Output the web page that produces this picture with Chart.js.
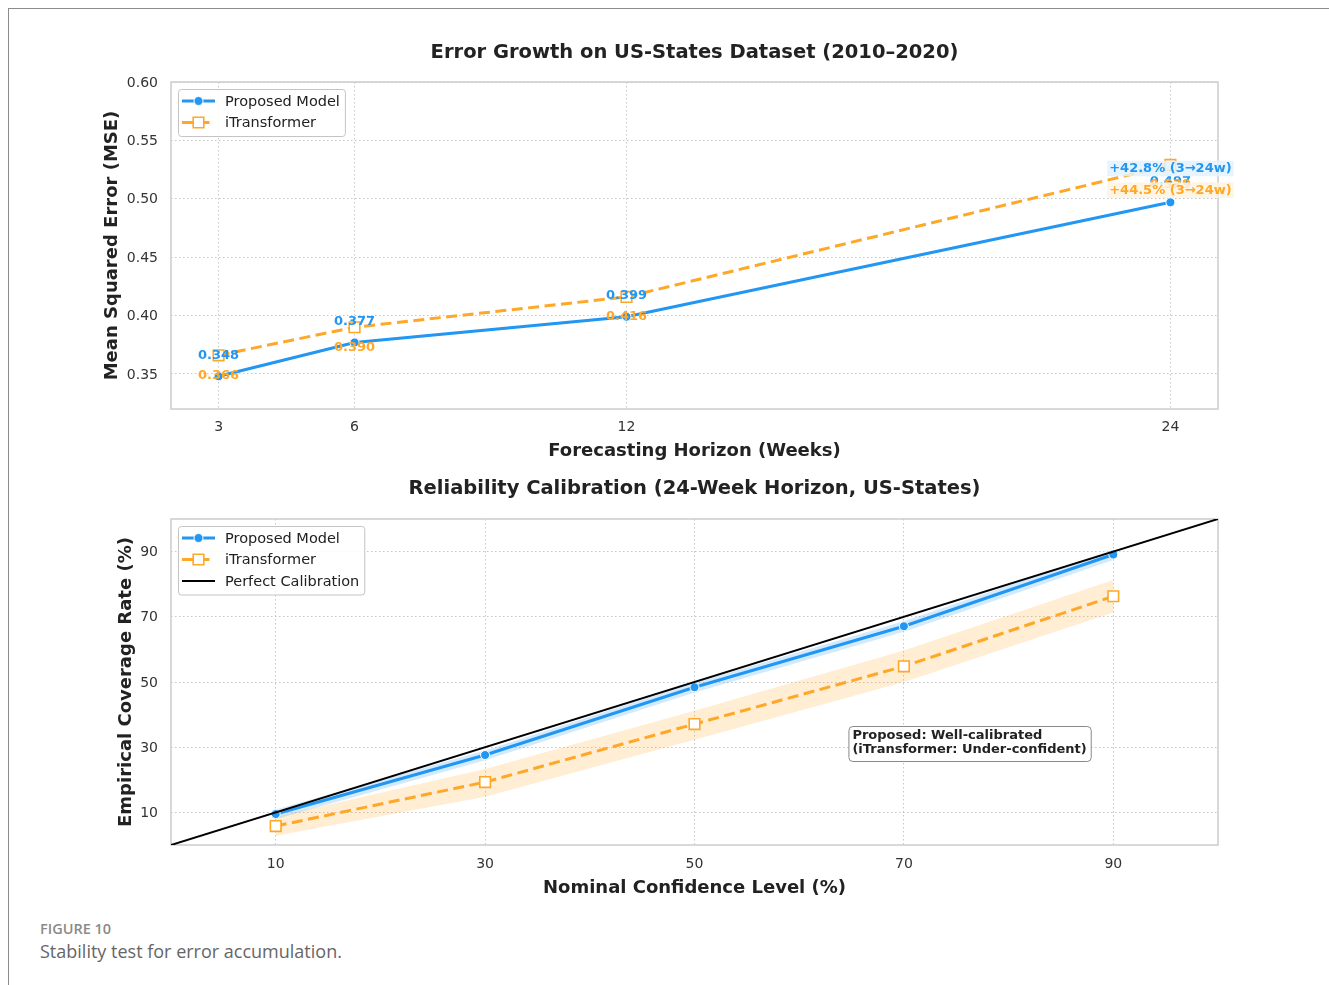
<!DOCTYPE html>
<html>
<head>
<meta charset="utf-8">
<title>Stability test for error accumulation</title>
<script src="https://cdn.jsdelivr.net/npm/chart.js@4/dist/chart.umd.min.js"></script>
<style>
  html, body { margin: 0; padding: 0; background: #ffffff; }
  body { width: 1329px; height: 985px; position: relative; overflow: hidden; font-family: 'DejaVu Sans', sans-serif; }
  #frame { position: absolute; left: 8px; top: 8px; right: 0; bottom: 0;
           border-left: 1.5px solid #8c8c8c; border-top: 1.5px solid #8c8c8c; }
  .panel { position: absolute; left: 0; }
  #p1 { top: 0; }
  #p2 { top: 465px; }
  .fig-no { position: absolute; left: 40px; top: 919px; font: 600 14.5px 'Open Sans', sans-serif; color: #8a8a8a; }
  .fig-cap { position: absolute; left: 40px; top: 939px; font: 400 18px 'Open Sans', sans-serif; color: #666666; }
</style>
</head>
<body>
<div id="frame"></div>
<canvas id="p1" class="panel" width="1329" height="470"></canvas>
<canvas id="p2" class="panel" width="1329" height="450"></canvas>
<div class="fig-no">FIGURE 10</div>
<div class="fig-cap">Stability test for error accumulation.</div>

<script>
// ---- Error growth across forecasting horizons (US-States, 2010–2020) ----
const horizons     = [3, 6, 12, 24];
const proposedMSE  = [0.348, 0.377, 0.399, 0.497];
const itransMSE    = [0.366, 0.390, 0.416, 0.529];
const mseTicks     = [0.35, 0.40, 0.45, 0.50, 0.55, 0.60];

// ---- Reliability calibration at the 24-week horizon ----
const confLevels       = [10, 30, 50, 70, 90];
const proposedCov      = [9.5, 27.6, 48.4, 67.1, 89.1];
const proposedCovLow   = [8.0, 26.0, 46.8, 65.4, 87.4];
const proposedCovHigh  = [10.9, 29.0, 49.8, 68.6, 90.6];
const itransCov        = [5.8, 19.3, 37.1, 54.8, 76.3];
const itransCovLow     = [2.8, 14.8, 32.3, 50.0, 71.3];
const itransCovHigh    = [8.7, 23.3, 41.2, 59.7, 81.3];
const calibRange       = [0, 100];
const coverageTicks    = [10, 30, 50, 70, 90];
const calibNote        = ['Proposed: Well-calibrated', '(iTransformer: Under-confident)'];

const BLUE = '#2196F3';
const ORANGE = '#FFA726';
const FONT = "'DejaVu Sans', sans-serif";

const pairs = (xs, ys) => xs.map((x, i) => ({ x: x, y: ys[i] }));

// Panel title centred over the plotting area
const panelTitle = {
  id: 'panelTitle',
  afterDraw(chart, args, opts) {
    const { ctx, chartArea: a } = chart;
    ctx.save();
    ctx.font = 'bold 19.5px ' + FONT;
    ctx.fillStyle = '#222222';
    ctx.textAlign = 'center';
    ctx.textBaseline = 'middle';
    ctx.fillText(opts.text, (a.left + a.right) / 2, opts.y);
    ctx.restore();
  }
};

// Light frame around the plotting area
const plotFrame = {
  id: 'plotFrame',
  beforeDatasetsDraw(chart) {
    const { ctx, chartArea: a } = chart;
    ctx.save();
    ctx.strokeStyle = '#cccccc';
    ctx.lineWidth = 1.5;
    ctx.strokeRect(a.left, a.top, a.width, a.height);
    ctx.restore();
  }
};

function drawMarker(ctx, ds, x, y) {
  const r = ds.pointRadius;
  ctx.save();
  ctx.setLineDash([]);
  ctx.fillStyle = ds.pointBackgroundColor;
  ctx.strokeStyle = ds.pointBorderColor;
  ctx.lineWidth = ds.pointBorderWidth;
  ctx.beginPath();
  if (ds.pointStyle === 'rect') {
    const s = r * Math.SQRT1_2;
    ctx.rect(x - s, y - s, 2 * s, 2 * s);
  } else {
    ctx.arc(x, y, r, 0, Math.PI * 2);
  }
  ctx.fill();
  if (ds.pointBorderWidth > 0) ctx.stroke();
  ctx.restore();
}

// Boxed legend drawn in the upper-left corner of the plot
const boxLegend = {
  id: 'boxLegend',
  afterDraw(chart, args, opts) {
    const { ctx, chartArea: a } = chart;
    const items = chart.data.datasets.filter(d => d.label);
    ctx.save();
    ctx.font = '14.5px ' + FONT;
    const tw = Math.max(...items.map(d => ctx.measureText(d.label).width));
    const x0 = a.left + 7, y0 = a.top + 7;
    const rowH = 21.5;
    const w = 47 + tw + 5, h = items.length * rowH + 4;
    ctx.fillStyle = 'rgba(255,255,255,0.85)';
    ctx.strokeStyle = '#c4c4c4';
    ctx.lineWidth = 1;
    ctx.beginPath();
    ctx.roundRect(x0 + 0.5, y0 + 0.5, w, h, 3);
    ctx.fill();
    ctx.stroke();
    items.forEach((d, i) => {
      const cy = y0 + 12 + i * rowH;
      ctx.save();
      ctx.strokeStyle = d.borderColor;
      ctx.lineWidth = d.borderWidth;
      ctx.setLineDash(d.borderDash || []);
      ctx.beginPath();
      ctx.moveTo(x0 + 4, cy);
      ctx.lineTo(x0 + 37, cy);
      ctx.stroke();
      ctx.restore();
      if (d.pointRadius > 0) drawMarker(ctx, d, x0 + 20.5, cy);
      ctx.fillStyle = '#222222';
      ctx.textAlign = 'left';
      ctx.textBaseline = 'middle';
      ctx.fillText(d.label, x0 + 47, cy + 1);
    });
    ctx.restore();
  }
};

// Value labels above / below each MSE point and the 3→24 week growth tags
const mseLabels = {
  id: 'mseLabels',
  afterDatasetsDraw(chart, args, opts) {
    const { ctx } = chart;
    ctx.save();
    ctx.font = 'bold 13px ' + FONT;
    ctx.textAlign = 'center';
    ctx.textBaseline = 'middle';
    chart.data.datasets.forEach((d, i) => {
      const meta = chart.getDatasetMeta(i);
      meta.data.forEach((pt, j) => {
        ctx.fillStyle = d.borderColor;
        ctx.fillText(d.data[j].y.toFixed(3), pt.x, pt.y + opts.offsets[i]);
      });
    });
    chart.data.datasets.forEach((d, i) => {
      const meta = chart.getDatasetMeta(i);
      const n = d.data.length - 1;
      const pct = (d.data[n].y / d.data[0].y - 1) * 100;
      const txt = '+' + pct.toFixed(1) + '% (' + d.data[0].x + '→' + d.data[n].x + 'w)';
      const pt = meta.data[n];
      const cy = pt.y + opts.growthOffsets[i];
      const w = ctx.measureText(txt).width + 4;
      ctx.fillStyle = opts.growthFills[i];
      ctx.fillRect(pt.x - w / 2, cy - 7.5, w, 15.5);
      ctx.fillStyle = d.borderColor;
      ctx.fillText(txt, pt.x, cy + 0.5);
    });
    ctx.restore();
  }
};

// Text note on the calibration panel
const noteBox = {
  id: 'noteBox',
  afterDraw(chart, args, opts) {
    const { ctx, scales } = chart;
    const x = scales.x.getPixelForValue(opts.at[0]);
    const y = scales.y.getPixelForValue(opts.at[1]);
    ctx.save();
    ctx.font = 'bold 13px ' + FONT;
    const w = Math.max(...opts.lines.map(t => ctx.measureText(t).width)) + 8;
    const h = opts.lines.length * 14 + 7;
    ctx.fillStyle = '#ffffff';
    ctx.strokeStyle = '#8a8a8a';
    ctx.lineWidth = 1;
    ctx.beginPath();
    ctx.roundRect(x + 0.5, y + 0.5, w, h, 4);
    ctx.fill();
    ctx.stroke();
    ctx.fillStyle = '#222222';
    ctx.textAlign = 'left';
    ctx.textBaseline = 'middle';
    opts.lines.forEach((t, i) => ctx.fillText(t, x + 4, y + 10 + i * 14));
    ctx.restore();
  }
};

function gridOpts() {
  return { color: '#c6c6c6', lineWidth: 1, drawTicks: false };
}
function borderOpts() {
  return { display: false, dash: [1.5, 2.5] };
}
const tickFont = { family: FONT, size: 14 };
const axisTitleFont = { family: FONT, size: 18, weight: 'bold' };

// ---------- Panel 1: MSE vs horizon ----------
new Chart(document.getElementById('p1'), {
  type: 'line',
  data: {
    datasets: [
      {
        label: 'Proposed Model',
        data: pairs(horizons, proposedMSE),
        borderColor: BLUE, backgroundColor: BLUE,
        borderWidth: 3, borderDash: [],
        pointStyle: 'circle', pointRadius: 4.5,
        pointBackgroundColor: BLUE, pointBorderColor: '#ffffff', pointBorderWidth: 1,
        order: 1
      },
      {
        label: 'iTransformer',
        data: pairs(horizons, itransMSE),
        borderColor: ORANGE, backgroundColor: ORANGE,
        borderWidth: 3, borderDash: [11, 5.5],
        pointStyle: 'rect', pointRadius: 7.5,
        pointBackgroundColor: '#ffffff', pointBorderColor: ORANGE, pointBorderWidth: 1.6,
        order: 2
      }
    ]
  },
  options: {
    responsive: false,
    animation: false,
    layout: { padding: { left: 0, right: 111, top: 82, bottom: 0 } },
    plugins: {
      legend: { display: false },
      tooltip: { enabled: false },
      title: { display: false },
      panelTitle: { text: 'Error Growth on US-States Dataset (2010–2020)', y: 52.5 },
      mseLabels: {
        offsets: [-21, 20],
        growthOffsets: [-34, 25],
        growthFills: ['rgba(227,242,253,0.85)', 'rgba(255,243,224,0.85)']
      }
    },
    scales: {
      x: {
        type: 'linear', min: 1.95, max: 25.05,
        afterBuildTicks: s => { s.ticks = horizons.map(v => ({ value: v })); },
        afterFit: s => { s.height = 61; },
        ticks: { font: tickFont, color: '#333333', padding: 10, callback: v => String(v) },
        grid: gridOpts(), border: borderOpts(),
        title: { display: true, text: 'Forecasting Horizon (Weeks)', color: '#222222',
                 font: axisTitleFont, padding: { top: 0, bottom: 8.2 } }
      },
      y: {
        type: 'linear', min: 0.32, max: 0.60,
        afterBuildTicks: s => { s.ticks = mseTicks.map(v => ({ value: v })); },
        afterFit: s => { s.width = 171; },
        ticks: { font: tickFont, color: '#333333', padding: 13, labelOffset: 1, callback: v => v.toFixed(2) },
        grid: gridOpts(), border: borderOpts(),
        title: { display: true, text: 'Mean Squared Error (MSE)', color: '#222222',
                 font: axisTitleFont, padding: { top: 101.2, bottom: 0 } }
      }
    }
  },
  plugins: [plotFrame, mseLabels, boxLegend, panelTitle]
});

// ---------- Panel 2: reliability calibration ----------
new Chart(document.getElementById('p2'), {
  type: 'line',
  data: {
    datasets: [
      {
        label: 'Proposed Model',
        data: pairs(confLevels, proposedCov),
        borderColor: BLUE, backgroundColor: BLUE,
        borderWidth: 3, borderDash: [],
        pointStyle: 'circle', pointRadius: 4.5,
        pointBackgroundColor: BLUE, pointBorderColor: '#ffffff', pointBorderWidth: 1,
        order: 2
      },
      {
        label: 'iTransformer',
        data: pairs(confLevels, itransCov),
        borderColor: ORANGE, backgroundColor: ORANGE,
        borderWidth: 3, borderDash: [11, 5.5],
        pointStyle: 'rect', pointRadius: 7.5,
        pointBackgroundColor: '#ffffff', pointBorderColor: ORANGE, pointBorderWidth: 1.6,
        order: 3
      },
      {
        label: 'Perfect Calibration',
        data: pairs(calibRange, calibRange),
        borderColor: '#000000', backgroundColor: '#000000',
        borderWidth: 2, borderDash: [],
        pointRadius: 0,
        order: 1
      },
      {
        data: pairs(confLevels, proposedCovHigh),
        borderWidth: 0, pointRadius: 0,
        backgroundColor: 'rgba(33,150,243,0.2)', fill: '+1', order: 5
      },
      {
        data: pairs(confLevels, proposedCovLow),
        borderWidth: 0, pointRadius: 0, fill: false, order: 5
      },
      {
        data: pairs(confLevels, itransCovHigh),
        borderWidth: 0, pointRadius: 0,
        backgroundColor: 'rgba(255,167,38,0.2)', fill: '+1', order: 6
      },
      {
        data: pairs(confLevels, itransCovLow),
        borderWidth: 0, pointRadius: 0, fill: false, order: 6
      }
    ]
  },
  options: {
    responsive: false,
    animation: false,
    layout: { padding: { left: 0, right: 111, top: 54, bottom: 0 } },
    plugins: {
      legend: { display: false },
      tooltip: { enabled: false },
      filler: { propagate: false },
      title: { display: false },
      panelTitle: { text: 'Reliability Calibration (24-Week Horizon, US-States)', y: 23.5 },
      noteBox: { at: [64.7, 36.5], lines: calibNote }
    },
    scales: {
      x: {
        type: 'linear', min: 0, max: 100,
        afterBuildTicks: s => { s.ticks = confLevels.map(v => ({ value: v })); },
        afterFit: s => { s.height = 70; },
        ticks: { font: tickFont, color: '#333333', padding: 11, callback: v => String(v) },
        grid: gridOpts(), border: borderOpts(),
        title: { display: true, text: 'Nominal Confidence Level (%)', color: '#222222',
                 font: axisTitleFont, padding: { top: 0, bottom: 16.2 } }
      },
      y: {
        type: 'linear', min: 0, max: 100,
        afterBuildTicks: s => { s.ticks = coverageTicks.map(v => ({ value: v })); },
        afterFit: s => { s.width = 171; },
        ticks: { font: tickFont, color: '#333333', padding: 13, labelOffset: 1, callback: v => String(v) },
        grid: gridOpts(), border: borderOpts(),
        title: { display: true, text: 'Empirical Coverage Rate (%)', color: '#222222',
                 font: axisTitleFont, padding: { top: 115.2, bottom: 0 } }
      }
    }
  },
  plugins: [plotFrame, noteBox, boxLegend, panelTitle]
});
</script>
</body>
</html>
